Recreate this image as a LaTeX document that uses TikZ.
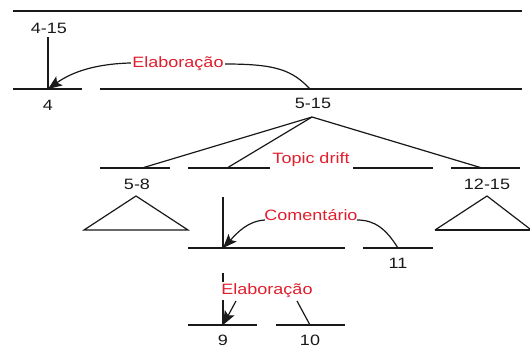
\documentclass[tikz,border=0pt]{standalone}
\usepackage{fontspec}
\newfontfamily\lbl[FakeStretch=1.2]{Liberation Sans}
\usetikzlibrary{arrows.meta}
\definecolor{relred}{RGB}{225,30,45}
\definecolor{inkc}{RGB}{25,25,25}
\tikzset{
  ln/.style={draw=inkc,line width=1.2pt},
  num/.style={font=\lbl\fontsize{15}{17}\selectfont,text=inkc,inner sep=0pt},
  rel/.style={font=\lbl\fontsize{15}{17}\selectfont,text=relred,fill=white,inner sep=1.5pt},
  arr/.style={ln,-{Stealth[length=14pt,width=11pt,inset=3pt]}},
}
\begin{document}
\begin{tikzpicture}[x=1pt,y=-1pt]
\useasboundingbox (0,0) rectangle (530,348);
% top level
\coordinate (t1) at (13,11); \coordinate (t2) at (522,11);
\draw[ln] (t1) -- (t2);
\node[num] (n415) at (49,28) {4-15};
\coordinate (v1a) at (48,37); \coordinate (v1b) at (48,89);
\draw[ln] (v1a) -- (v1b);
\coordinate (a1) at (13,89); \coordinate (a2) at (82,89);
\coordinate (b1) at (100,89); \coordinate (b2) at (522,89);
\draw[ln] (a1) -- (a2);
\draw[ln] (b1) -- (b2);
\node[num] (n4) at (48,105) {4};
% Elaboracao top
\coordinate (e1s) at (310,89);
\draw[ln] (e1s) .. controls (292,70) and (276,64) .. (225,64) -- (130,63);
\draw[arr] (130,63) .. controls (95,64) and (72,72) .. (v1b);
\node[rel] (el1) at (178,64) {Elaboração};
% 5-15
\node[num] (n515) at (313,103) {5-15};
\coordinate (ap) at (312,117);
\coordinate (c58) at (142,168); \coordinate (cmid) at (227,168); \coordinate (c1215) at (482,168);
\draw[ln] (ap) -- (c58);
\draw[ln] (ap) -- (cmid);
\draw[ln] (ap) -- (c1215);
\draw[ln] (100,168) -- (170,168);
\draw[ln] (188,168) -- (270,168);
\draw[ln] (353,168) -- (433,168);
\draw[ln] (451,168) -- (520,168);
\node[rel,fill=none] (td) at (311,160) {Topic drift};
\node[num] (n58) at (137,184) {5-8};
\node[num] (n1215) at (487,184) {12-15};
\draw[ln] (136,196) -- (84,230) -- (188,230) -- cycle;
\draw[ln] (435,230) -- (487,196) -- (530,229);
\draw[ln] (435,230) -- (530,230);
% middle
\coordinate (v2a) at (223,197); \coordinate (v2b) at (223,248);
\draw[ln] (v2a) -- (v2b);
\draw[ln] (188,248) -- (345,248);
\draw[ln] (363,248) -- (433,248);
\node[num] (n11) at (398,263) {11};
\coordinate (cs) at (398,248);
\draw[ln] (cs) .. controls (386,229) and (375,220) .. (357,220);
\draw[arr] (265,220) .. controls (248,221) and (238,232) .. (v2b);
\node[rel,fill=none] (com) at (311,215) {Comentário};
% bottom
\coordinate (v3a) at (223,273); \coordinate (v3b) at (223,325);
\draw[ln] (v3a) -- (v3b);
\draw[arr] (236,301) -- (v3b);
\coordinate (s10) at (310,325);
\draw[ln] (s10) -- (297,301);
\node[rel] (el2) at (267,291) {Elaboração};
\draw[ln] (188,325) -- (257,325);
\draw[ln] (276,325) -- (345,325);
\node[num] (n9) at (223,340) {9};
\node[num] (n10) at (310,340) {10};
\end{tikzpicture}
\end{document}
